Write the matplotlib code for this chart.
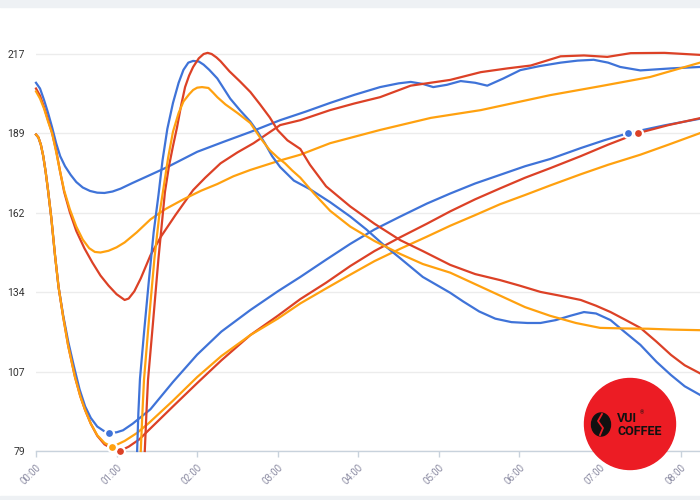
import matplotlib.pyplot as plt
from matplotlib.patches import Ellipse, Rectangle

plt.rcParams['font.family'] = ['Roboto', 'DejaVu Sans']

BLUE = '#3f73d8'
RED = '#dc4126'
ORANGE = '#ffa10f'

# time axis in hours since 00:00
hours = [0, 1, 2, 3, 4, 5, 6, 7, 8]
hour_labels = ["00:00", "01:00", "02:00", "03:00", "04:00",
               "05:00", "06:00", "07:00", "08:00"]

y_ticks = [79, 106.6, 134.2, 161.8, 189.4, 217]
y_labels = ["79", "107", "134", "162", "189", "217"]

# curves starting near 205, slow dip then slow rise
blue_a_t = [0, 0.05, 0.1, 0.15, 0.2, 0.25, 0.3, 0.36, 0.43, 0.5, 0.58, 0.67,
            0.76, 0.85, 0.95, 1.05, 1.2, 1.42, 1.63, 2.0, 2.33, 2.66, 3.03,
            3.35, 3.65, 3.95, 4.27, 4.5, 4.65, 4.8, 4.93, 5.1, 5.27, 5.45, 5.6,
            5.8, 6.01, 6.25, 6.51, 6.72, 6.92, 7.1, 7.25, 7.5, 7.88, 8.24]
blue_a_v = [207, 205, 201, 196.5, 191.5, 186, 181.5, 178, 175, 172.5, 170.6,
            169.4, 168.8, 168.7, 169.2, 170.2, 172.2, 175, 177.7, 183, 186.5,
            189.9, 194, 197, 200, 202.8, 205.5, 206.8, 207.3, 206.6, 205.5,
            206.3, 207.6, 207, 206, 208.5, 211.4, 212.8, 214, 214.7, 215,
            214, 212.5, 211.3, 212, 212.5]

red_a_t = [0, 0.05, 0.1, 0.15, 0.2, 0.25, 0.3, 0.35, 0.42, 0.5, 0.6, 0.7, 0.8,
           0.9, 1.0, 1.1, 1.15, 1.22, 1.3, 1.42, 1.55, 1.73, 1.95, 2.1, 2.29,
           2.5, 2.7, 3.03, 3.28, 3.65, 3.95, 4.27, 4.65, 5.14, 5.52, 5.85,
           6.14, 6.51, 6.8, 7.09, 7.38, 7.8, 8.24]
red_a_v = [205, 202.5, 198.5, 194, 189.5, 183.5, 176, 169, 162, 155.5, 149.5,
           144.5, 140, 136.5, 133.5, 131.5, 132, 134.5, 139, 147, 153.5, 161,
           169.7, 174, 179, 182.8, 186, 192.3, 194, 197.5, 199.8, 202, 206,
           208, 210.7, 212, 213, 216.2, 216.5, 216, 217.3, 217.4, 216.7]

orange_a_t = [0, 0.05, 0.1, 0.15, 0.2, 0.25, 0.3, 0.35, 0.42, 0.5, 0.58, 0.66,
              0.73, 0.8, 0.9, 1.0, 1.1, 1.25, 1.42, 1.6, 1.83, 2.05, 2.25,
              2.45, 2.66, 3.03, 3.28, 3.65, 4.27, 4.9, 5.52, 6.38, 7.0, 7.62,
              8.24]
orange_a_v = [204, 201.5, 198, 193.5, 189.5, 183, 176, 169.5, 163, 157, 152.5,
              149.5, 148.2, 148, 148.6, 149.8, 151.5, 155, 159.5, 163, 166.5,
              169.5, 171.8, 174.5, 176.7, 180, 182, 186, 190.6, 194.8, 197.5,
              202.7, 205.8, 209, 214]

# curves shooting up near 01:15, peak, then decline
blue_b_t = [1.255, 1.27, 1.29, 1.34, 1.4, 1.46, 1.52, 1.57, 1.63, 1.7, 1.77,
            1.83, 1.89, 1.95, 2.02, 2.08, 2.15, 2.25, 2.33, 2.41, 2.53, 2.66,
            2.75, 2.84, 2.93, 3.03, 3.2, 3.4, 3.65, 3.9, 4.1, 4.3, 4.52, 4.8,
            5.14, 5.3, 5.5, 5.7, 5.9, 6.1, 6.26, 6.45, 6.63, 6.8, 6.95, 7.13,
            7.3, 7.5, 7.7, 7.88, 8.05, 8.24]
blue_b_v = [79, 92, 104, 120, 138, 155, 168, 180, 191, 200, 207, 211.5, 214,
            214.6, 214.4, 213.3, 211.5, 208.5, 205, 201.5, 197.5, 193.5, 190,
            186, 181.5, 177.7, 173, 170, 165.5, 160.5, 156, 151, 146, 139.5,
            134, 131, 127.5, 125, 123.8, 123.5, 123.5, 124.5, 126, 127.3,
            126.8, 124.5, 120.5, 115.9, 110, 105.4, 101.5, 98.5]

red_b_t = [1.35, 1.37, 1.39, 1.45, 1.52, 1.6, 1.65, 1.7, 1.75, 1.8, 1.85, 1.9,
           1.95, 2.02, 2.08, 2.13, 2.18, 2.24, 2.29, 2.4, 2.53, 2.66, 2.78, 2.9,
           3.0, 3.12, 3.2, 3.28, 3.4, 3.6, 3.9, 4.2, 4.52, 4.8, 5.14, 5.45,
           5.76, 6.0, 6.26, 6.5, 6.76, 6.95, 7.13, 7.3, 7.5, 7.7, 7.88, 8.05,
           8.24]
red_b_v = [79, 92, 103.7, 123, 146, 169, 178, 185, 191.5, 199, 205.5, 209.5,
           212.5, 215.5, 217, 217.4, 217, 215.8, 214.5, 211, 207.5, 203.8,
           199.5, 195, 190.5, 187, 185.5, 184, 178.5, 171, 164, 158, 152.3,
           148.5, 143.7, 140.5, 138.4, 136.5, 134.3, 133, 131.5, 129.5, 127.3,
           124.8, 121.8, 117, 112.4, 108.8, 106]

orange_b_t = [1.3, 1.32, 1.34, 1.4, 1.47, 1.53, 1.58, 1.64, 1.7, 1.77, 1.83,
              1.9, 1.95, 2.0, 2.06, 2.14, 2.2, 2.25, 2.35, 2.5, 2.66, 2.78,
              2.9, 3.0, 3.09, 3.18, 3.28, 3.45, 3.65, 3.9, 4.2, 4.52, 4.8,
              5.14, 5.45, 5.76, 6.07, 6.38, 6.7, 7.0, 7.3, 7.6, 7.9, 8.24]
orange_b_v = [79, 92, 103.7, 124, 146, 161, 170, 181, 190, 196.5, 200.5, 203,
              204.5, 205.3, 205.5, 205.2, 203.5, 202, 199.5, 196.5, 193, 188,
              183.6, 181, 179, 176.5, 174, 168.5, 162.5, 157, 152, 147.5, 144,
              141, 137, 133, 129, 126, 123.5, 121.8, 121.6, 121.5, 121.2, 121]

# curves starting at 189, fast drop to the floor, then steady climb
blue_c_t = [0, 0.03, 0.06, 0.09, 0.12, 0.15, 0.19, 0.236, 0.28, 0.335, 0.4,
            0.47, 0.54, 0.61, 0.68, 0.76, 0.84, 0.91, 1.0, 1.08, 1.2, 1.42,
            1.7, 2.0, 2.3, 2.66, 3.0, 3.28, 3.6, 3.9, 4.2, 4.52, 4.85, 5.14,
            5.45, 5.76, 6.07, 6.38, 6.76, 7.05, 7.35, 7.8, 8.24]
blue_c_v = [189, 188, 185.5, 181.5, 176, 169.5, 160, 147, 136, 126.5, 117,
            108.5, 100.5, 94.5, 90.5, 87.5, 86, 85.3, 85.5, 86.2, 88.5, 93.5,
            103, 112.5, 120.5, 128, 134.5, 139.5, 145.5, 151, 156, 160.5, 165,
            168.5, 172, 175, 178, 180.5, 184.3, 187, 189.5, 192.2, 194.5]

red_c_t = [0, 0.03, 0.06, 0.09, 0.12, 0.15, 0.19, 0.236, 0.28, 0.335, 0.4,
           0.484, 0.55, 0.61, 0.68, 0.76, 0.85, 0.944, 1.04, 1.15, 1.28, 1.4,
           1.7, 2.0, 2.3, 2.66, 3.0, 3.28, 3.6, 3.9, 4.2, 4.52, 4.85, 5.14,
           5.45, 5.76, 6.07, 6.38, 6.76, 7.1, 7.47, 7.85, 8.24]
red_c_v = [189, 188, 185.5, 181.5, 176, 169.5, 160, 147, 136, 126, 115.5,
           104.7, 98, 93.2, 88.5, 84.3, 81.3, 79.8, 79, 80.5, 83, 86.3, 94.5,
           102.6, 110.5, 119.3, 126, 131.8, 137.5, 143.3, 148.5, 153.3, 158,
           162.3, 166.5, 170.3, 174, 177.3, 181.5, 185.5, 189.5, 192.3, 194.7]

orange_c_t = [0, 0.03, 0.06, 0.09, 0.12, 0.15, 0.19, 0.236, 0.28, 0.335, 0.4,
              0.484, 0.55, 0.61, 0.68, 0.76, 0.85, 0.944, 1.1, 1.25, 1.4, 1.7,
              2.0, 2.3, 2.66, 3.0, 3.28, 3.6, 3.9, 4.2, 4.52, 4.85, 5.14, 5.45,
              5.76, 6.07, 6.38, 6.76, 7.1, 7.5, 7.85, 8.24]
orange_c_v = [189, 188, 185.5, 181.5, 176, 169.5, 160, 147, 136, 126, 115.5,
              104.7, 98, 93.2, 88.5, 84.5, 81.8, 80.4, 82.5, 85.2, 88.7, 96.5,
              104.7, 112, 119.3, 125, 130.3, 135.5, 140.3, 145, 149.3, 153.5,
              157.3, 161, 164.8, 168, 171.3, 175.2, 178.5, 182, 185.5, 189.5]

# highlighted points
dots_t = [0.91, 1.04, 0.944, 7.35, 7.47]
dots_v = [85.3, 79, 80.4, 189.5, 189.5]
dots_c = [BLUE, RED, ORANGE, BLUE, RED]

fig = plt.figure(figsize=(7, 5), dpi=100)
fig.patch.set_facecolor('white')
fig.patches.append(Rectangle((0, 1 - 7 / 500), 1, 7 / 500,
                             transform=fig.transFigure, color='#eef1f4'))
fig.patches.append(Rectangle((0, 0), 1, 4 / 500,
                             transform=fig.transFigure, color='#eef1f4'))

ax = fig.add_axes([36 / 700, 49 / 500, 664 / 700, 441 / 500])
ax.set_xlim(0, 8.24)
ax.set_ylim(79, 232.3)

lw = 1.6
for t, v, c in [(blue_c_t, blue_c_v, BLUE), (red_c_t, red_c_v, RED),
                (orange_c_t, orange_c_v, ORANGE),
                (blue_a_t, blue_a_v, BLUE), (red_a_t, red_a_v, RED),
                (orange_a_t, orange_a_v, ORANGE),
                (blue_b_t, blue_b_v, BLUE), (red_b_t, red_b_v, RED),
                (orange_b_t, orange_b_v, ORANGE)]:
    ax.plot(t, v, color=c, lw=lw, solid_joinstyle='round', clip_on=False,
            zorder=3)

for t, v, c in zip(dots_t, dots_v, dots_c):
    ax.plot(t, v, 'o', ms=6.5, mfc=c, mec='white', mew=1.6, clip_on=False,
            zorder=5)

ax.set_yticks(y_ticks)
ax.set_yticklabels(y_labels, fontsize=7.5, color='#333333')
ax.set_xticks(hours)
ax.set_xticklabels(hour_labels, fontsize=7, color='#8c8ca3', rotation=45,
                   ha='right', va='top', rotation_mode='anchor')
ax.tick_params(axis='y', length=0, pad=8)
ax.tick_params(axis='x', length=4, width=1, color='#c8d2dc', pad=4)
ax.grid(axis='y', color='#ececec', lw=1)
ax.set_axisbelow(True)
for s in ['top', 'right', 'left']:
    ax.spines[s].set_visible(False)
ax.spines['bottom'].set_color('#c8d2dc')
ax.spines['bottom'].set_linewidth(1)


# logo badge
def fx(x):
    return x / 700


def fy(y):
    return 1 - y / 500


fig.add_artist(Ellipse((fx(630), fy(424)), 91 / 700, 91 / 500,
                       transform=fig.transFigure, color='#ec1c24', zorder=10))
fig.add_artist(Ellipse((fx(601), fy(424.5)), 19 / 700, 23 / 500,
                       transform=fig.transFigure, color='#111111', zorder=11))
fig.add_artist(plt.Line2D([fx(602), fx(598), fx(603), fx(600)],
                          [fy(414), fy(421), fy(428), fy(435)],
                          transform=fig.transFigure, color='#ec1c24', lw=1.3,
                          zorder=12))
fig.text(fx(617), fy(418.5), "VUI", fontsize=9, fontweight='bold',
         color='#111111', ha='left', va='center', zorder=12)
fig.text(fx(640), fy(413), "®", fontsize=4, color='#111111', ha='left',
         va='center', zorder=12)
fig.text(fx(617), fy(431.5), "COFFEE", fontsize=9, fontweight='bold',
         color='#111111', ha='left', va='center', zorder=12)

fig.savefig('out.png', dpi=100)
